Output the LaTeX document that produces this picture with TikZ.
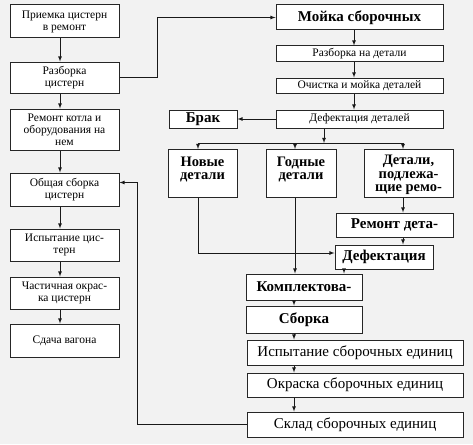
\documentclass[tikz,border=0pt]{standalone}
\usepackage{fontspec}
\setmainfont{Liberation Serif}
\usetikzlibrary{arrows}

\begin{document}
\begin{tikzpicture}[x=1pt,y=-1pt]
   \tikzset{Box/.style={draw=black!85,fill=white,line width=1pt,inner sep=0pt,align=center,
               font=\fontsize{11.5}{12}\selectfont},
            BigBox/.style={Box,font=\fontsize{15}{15}\selectfont\bfseries},
            TallBox/.style={Box,font=\fontsize{14.5}{13.5}\selectfont\bfseries,anchor=north,
               minimum height=48},
            MidBox/.style={Box,font=\fontsize{15}{15}\selectfont},
            EdgeStyle/.style={->,>=latex,line width=0.8pt,black!90}}
   \fill[black!5] (0,0) rectangle (473,444);
   \useasboundingbox (0,0) rectangle (473,444);
   \node[Box,minimum width=109,minimum height=33] (priem)  at (64.5,21.5)  {Приемка цистерн\\в ремонт};
   \node[Box,minimum width=109,minimum height=31] (razb)   at (64.5,77.5)  {Разборка\\цистерн};
   \node[Box,minimum width=109,minimum height=41] (remont) at (64.5,129.5) {Ремонт котла и\\оборудования на\\нем};
   \node[Box,minimum width=109,minimum height=33] (obsch)  at (64.5,189.5) {Общая сборка\\цистерн};
   \node[Box,minimum width=109,minimum height=32] (ispyt)  at (64.5,245)   {Испытание цис-\\терн};
   \node[Box,minimum width=109,minimum height=32] (okras)  at (64.5,293)   {Частичная окрас-\\ка цистерн};
   \node[Box,minimum width=109,minimum height=33] (sdacha) at (64.5,340.5) {Сдача вагона};
   \node[BigBox,minimum width=167,minimum height=25] (moika)   at (359.5,17.5)  {Мойка сборочных};
   \node[Box,minimum width=167,minimum height=15]    (razbdet) at (359.5,53.5)  {Разборка на детали};
   \node[Box,minimum width=167,minimum height=15]    (ochist)  at (359.5,85.5)  {Очистка и мойка деталей};
   \node[Box,minimum width=167,minimum height=18]    (defdet)  at (359.5,119)   {Дефектация деталей};
   \node[BigBox,minimum width=68,minimum height=18]  (brak)    at (203,119)     {Брак};
   \node[TallBox,minimum width=69,text depth=10.5pt] (novye)  at (202.5,149) {Новые\\детали};
   \node[TallBox,minimum width=70,text depth=10.5pt] (godnye) at (301,149)   {Годные\\детали};
   \node[TallBox,minimum width=89,text depth=-3pt]   (podl)   at (408.5,149) {Детали,\\подлежа-\\щие ремо-};
   \node[BigBox,minimum width=117,minimum height=24] (remdet)  at (394.5,225)   {Ремонт дета-};
   \node[BigBox,minimum width=98,minimum height=24]  (defekt)  at (384,257)     {Дефектация};
   \node[BigBox,minimum width=116,minimum height=26] (kompl)   at (304,287)     {Комплектова-};
   \node[BigBox,minimum width=116,minimum height=27] (sborka)  at (304,319.5)   {Сборка};
   \node[MidBox,minimum width=216,minimum height=25] (ispsb)   at (355,352.5)   {Испытание сборочных единиц};
   \node[MidBox,minimum width=216,minimum height=24] (okrsb)   at (355,385)     {Окраска сборочных единиц};
   \node[MidBox,minimum width=216,minimum height=25] (sklad)   at (355,424.5)   {Склад сборочных единиц};
   \coordinate (lcol) at (60,0);
   \coordinate (rcol) at (354,0);
   \coordinate (bus) at (324,143);
   \coordinate (col) at (294,0);
   \draw[EdgeStyle] (lcol |- priem.south) -- (lcol |- razb.north);
   \draw[EdgeStyle] (lcol |- razb.south) -- (lcol |- remont.north);
   \draw[EdgeStyle] (lcol |- remont.south) -- (lcol |- obsch.north);
   \draw[EdgeStyle] (lcol |- obsch.south) -- (lcol |- ispyt.north);
   \draw[EdgeStyle] (lcol |- ispyt.south) -- (lcol |- okras.north);
   \draw[EdgeStyle] (lcol |- okras.south) -- (lcol |- sdacha.north);
   \draw[EdgeStyle] (razb.east) -- ++(38,0) |- (moika.west);
   \draw[EdgeStyle] (rcol |- moika.south) -- (rcol |- razbdet.north);
   \draw[EdgeStyle] (rcol |- razbdet.south) -- (rcol |- ochist.north);
   \draw[EdgeStyle] (rcol |- ochist.south) -- (rcol |- defdet.north);
   \draw[EdgeStyle] (defdet) -- (brak);
   \draw[EdgeStyle] (defdet.south -| bus) -- (bus);
   \draw[EdgeStyle] (bus) -| ([xshift=-4.5pt]novye.north);
   \draw[EdgeStyle] (bus) -| ([xshift=-6pt]godnye.north);
   \draw[EdgeStyle] (bus) -| ([xshift=-5.5pt]podl.north);
   \draw[EdgeStyle] ([xshift=-5.5pt]podl.south) -- ([xshift=-5.5pt]podl.south |- remdet.north);
   \draw[EdgeStyle] ([xshift=-5.5pt]podl.south |- remdet.south) -- ([xshift=-5.5pt]podl.south |- defekt.north);
   \draw[EdgeStyle] ([xshift=-4.5pt]novye.south) |- ([yshift=4pt]defekt.west);
   \draw[EdgeStyle] ([xshift=-6pt]godnye.south) -- ([xshift=-6pt]godnye.south |- kompl.north);
   \draw[EdgeStyle] ([xshift=-40pt]defekt.south) -- ([xshift=-40pt]defekt.south |- kompl.north);
   \draw[EdgeStyle] (col |- kompl.south) -- (col |- sborka.north);
   \draw[EdgeStyle] (col |- sborka.south) -- (col |- ispsb.north);
   \draw[EdgeStyle] (col |- ispsb.south) -- (col |- okrsb.north);
   \draw[EdgeStyle] (col |- okrsb.south) -- (col |- sklad.north);
   \draw[EdgeStyle] (sklad.west) -- ++(-109,0) |- ([yshift=7pt]obsch.east);
\end{tikzpicture}
\end{document}
